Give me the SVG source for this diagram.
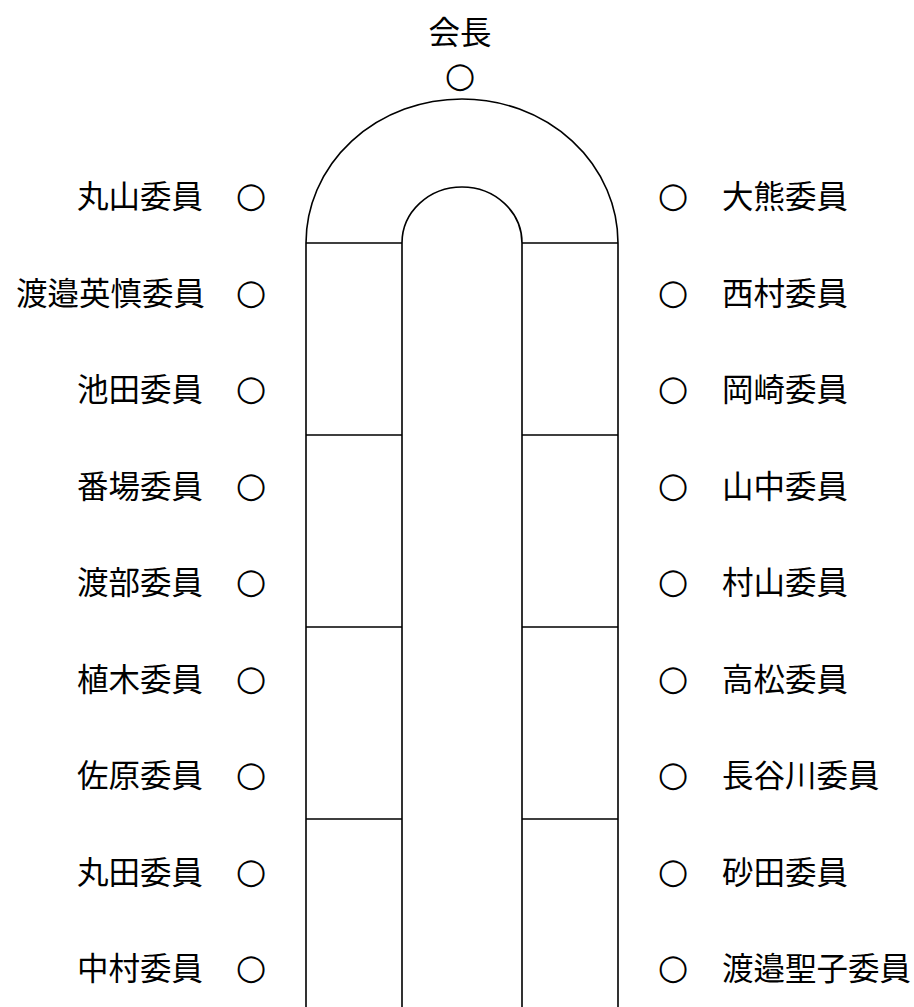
<svg xmlns="http://www.w3.org/2000/svg" width="914" height="1007" viewBox="0 0 914 1007">
<style>
.t{font-family:"Noto Sans CJK JP","Noto Sans CJK SC",sans-serif;font-size:31.5px;fill:#000}
.c{font-family:"DejaVu Sans","Noto Sans CJK JP",sans-serif;font-size:35px;fill:#000}
.ln{fill:none;stroke:#000;stroke-width:1.6}
</style>
<rect width="914" height="1007" fill="#fff"/>
<g id="table" class="ln">
<path d="M306 1007 V243 A156 144 0 0 1 618 243 V1007"/>
<path d="M402 1007 V243 A60 56 0 0 1 522 243 V1007"/>
<path d="M306 243 H402 M522 243 H618 M306 435 H402 M522 435 H618 M306 627 H402 M522 627 H618 M306 819 H402 M522 819 H618"/>
</g>
<g id="chair">
<text class="t" x="460" y="44" text-anchor="middle">会長</text>
<text class="c" x="460" y="87" text-anchor="middle">○</text>
</g>
<g id="left">
<g id="l1"><text class="t" x="203" y="208" text-anchor="end">丸山委員</text><text class="c" x="251" y="207" text-anchor="middle">○</text></g>
<g id="l2"><text class="t" x="205" y="305" text-anchor="end">渡邉英慎委員</text><text class="c" x="251" y="304" text-anchor="middle">○</text></g>
<g id="l3"><text class="t" x="203" y="401" text-anchor="end">池田委員</text><text class="c" x="251" y="400" text-anchor="middle">○</text></g>
<g id="l4"><text class="t" x="203" y="498" text-anchor="end">番場委員</text><text class="c" x="251" y="497" text-anchor="middle">○</text></g>
<g id="l5"><text class="t" x="203" y="594" text-anchor="end">渡部委員</text><text class="c" x="251" y="593" text-anchor="middle">○</text></g>
<g id="l6"><text class="t" x="203" y="691" text-anchor="end">植木委員</text><text class="c" x="251" y="690" text-anchor="middle">○</text></g>
<g id="l7"><text class="t" x="203" y="787" text-anchor="end">佐原委員</text><text class="c" x="251" y="786" text-anchor="middle">○</text></g>
<g id="l8"><text class="t" x="203" y="884" text-anchor="end">丸田委員</text><text class="c" x="251" y="883" text-anchor="middle">○</text></g>
<g id="l9"><text class="t" x="203" y="980" text-anchor="end">中村委員</text><text class="c" x="251" y="979" text-anchor="middle">○</text></g>
</g>
<g id="right">
<g id="r1"><text class="c" x="673" y="207" text-anchor="middle">○</text><text class="t" x="722" y="208">大熊委員</text></g>
<g id="r2"><text class="c" x="673" y="304" text-anchor="middle">○</text><text class="t" x="722" y="305">西村委員</text></g>
<g id="r3"><text class="c" x="673" y="400" text-anchor="middle">○</text><text class="t" x="722" y="401">岡崎委員</text></g>
<g id="r4"><text class="c" x="673" y="497" text-anchor="middle">○</text><text class="t" x="722" y="498">山中委員</text></g>
<g id="r5"><text class="c" x="673" y="593" text-anchor="middle">○</text><text class="t" x="722" y="594">村山委員</text></g>
<g id="r6"><text class="c" x="673" y="690" text-anchor="middle">○</text><text class="t" x="722" y="691">高松委員</text></g>
<g id="r7"><text class="c" x="673" y="786" text-anchor="middle">○</text><text class="t" x="722" y="787">長谷川委員</text></g>
<g id="r8"><text class="c" x="673" y="883" text-anchor="middle">○</text><text class="t" x="722" y="884">砂田委員</text></g>
<g id="r9"><text class="c" x="673" y="979" text-anchor="middle">○</text><text class="t" x="722" y="980">渡邉聖子委員</text></g>
</g>
</svg>
